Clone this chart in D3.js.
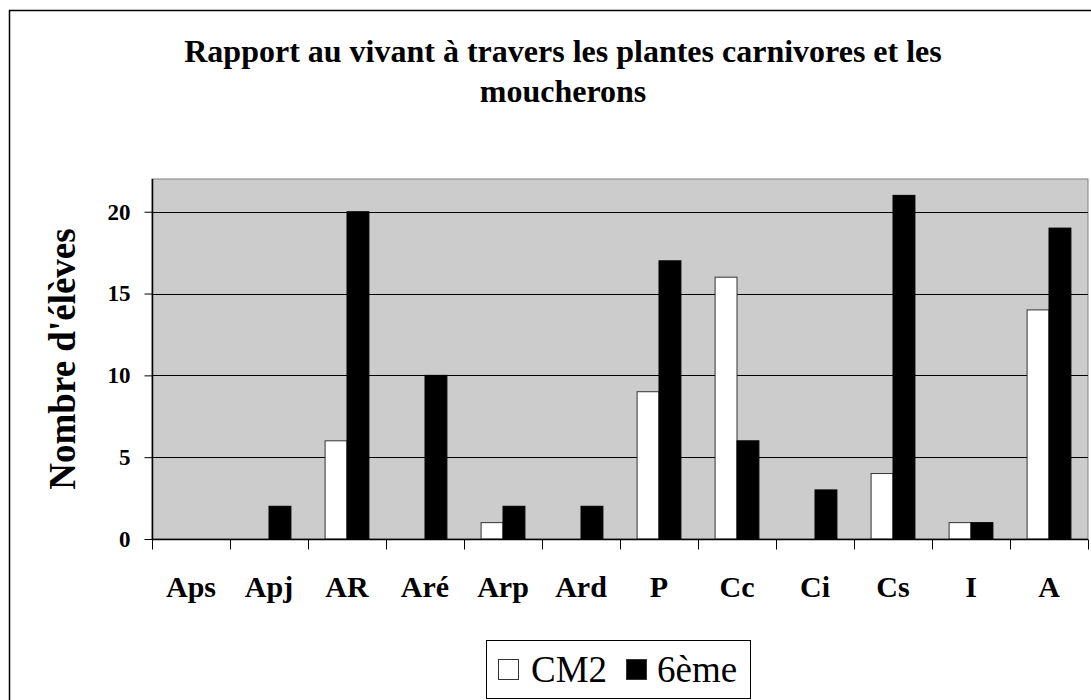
<!DOCTYPE html>
<html>
<head>
<meta charset="utf-8">
<script src="https://cdn.jsdelivr.net/npm/d3@7"></script>
<style>
  html, body { margin: 0; padding: 0; background: #fff; }
  svg { display: block; }
  text { font-family: "Liberation Serif", "Times New Roman", serif; fill: #000; }
</style>
</head>
<body>
<svg id="chart" width="1091" height="700"></svg>
<script>
const categories = ["Aps", "Apj", "AR", "Aré", "Arp", "Ard", "P", "Cc", "Ci", "Cs", "I", "A"];
const seriesNames = ["CM2", "6ème"];
const cm2 = [0, 0, 6, 0, 1, 0, 9, 16, 0, 4, 1, 14];
const sixieme = [0, 2, 20, 10, 2, 2, 17, 6, 3, 21, 1, 19];
const yTicks = [0, 5, 10, 15, 20];
const titleLines = ["Rapport au vivant à travers les plantes carnivores et les", "moucherons"];
const yTitle = "Nombre d'élèves";

const svg = d3.select("#chart");
const W = 1091, H = 700;

// outer chart border
svg.append("rect")
  .attr("x", 9.5).attr("y", 10.5)
  .attr("width", 1200).attr("height", 800)
  .attr("fill", "#fff").attr("stroke", "#000").attr("stroke-width", 1.5);

const plot = { left: 152, right: 1088, top: 179, bottom: 539 };

const x = d3.scaleBand().domain(categories).range([plot.left, plot.right]).paddingInner(0).paddingOuter(0);
const series = d3.scaleBand().domain(seriesNames).range([0, x.bandwidth()]).paddingInner(0).paddingOuter(0.78);
const y = d3.scaleLinear().domain([0, 22]).range([plot.bottom, plot.top]);

// plot background
svg.append("rect")
  .attr("x", plot.left).attr("y", plot.top)
  .attr("width", plot.right - plot.left).attr("height", plot.bottom - plot.top)
  .attr("fill", "#cccccc").attr("stroke", "#808080").attr("stroke-width", 1);

// gridlines
svg.append("g").selectAll("line").data(yTicks.filter(d => d > 0)).join("line")
  .attr("x1", plot.left).attr("x2", plot.right)
  .attr("y1", d => Math.round(y(d)) + 0.5).attr("y2", d => Math.round(y(d)) + 0.5)
  .attr("stroke", "#000").attr("stroke-width", 1);

// bars
const data = [cm2, sixieme];
const colors = ["#ffffff", "#000000"];
const barG = svg.append("g");
categories.forEach((c, i) => {
  seriesNames.forEach((s, j) => {
    const v = data[j][i];
    if (v <= 0) return;
    barG.append("rect")
      .attr("x", x(c) + series(s))
      .attr("y", y(v))
      .attr("width", series.bandwidth())
      .attr("height", y(0) - y(v))
      .attr("fill", colors[j])
      .attr("stroke", j === 0 ? "#333" : "#000")
      .attr("stroke-width", 1);
  });
});

// y axis
const yAxis = d3.axisLeft(y).tickValues(yTicks).tickSize(8).tickPadding(14).tickFormat(d3.format("d"));
const yg = svg.append("g").attr("transform", `translate(${plot.left + 0.5},0)`).call(yAxis);
yg.select(".domain").attr("stroke", "#000").attr("stroke-width", 1.5).attr("d", `M0,${plot.top}V${plot.bottom}`);
yg.selectAll(".tick line").attr("stroke", "#000");
yg.selectAll(".tick text")
  .style("font-family", "'Liberation Serif', 'Times New Roman', serif")
  .style("font-size", "23px").style("font-weight", "bold").attr("fill", "#000");

// x axis
const xAxis = d3.axisBottom(x).tickSize(0).tickPadding(0).tickFormat("");
const xg = svg.append("g").attr("transform", `translate(0,${plot.bottom + 0.5})`).call(xAxis);
xg.select(".domain").attr("stroke", "#000").attr("stroke-width", 1.5).attr("d", `M${plot.left},0H${plot.right}`);
xg.selectAll(".tick").remove();
// boundary ticks between categories
const boundaries = categories.map(c => x(c)).concat([plot.right]);
xg.selectAll("line.bt").data(boundaries).join("line")
  .attr("class", "bt")
  .attr("x1", d => Math.round(d) + 0.5).attr("x2", d => Math.round(d) + 0.5)
  .attr("y1", 0).attr("y2", 10)
  .attr("stroke", "#000").attr("stroke-width", 1);
// category labels
svg.append("g").selectAll("text").data(categories).join("text")
  .attr("x", d => x(d) + x.bandwidth() / 2)
  .attr("y", 597)
  .attr("text-anchor", "middle")
  .style("font-size", "30px").style("font-weight", "bold")
  .text(d => d);

// y title
svg.append("text")
  .attr("transform", `translate(75,${(plot.top + plot.bottom) / 2}) rotate(-90)`)
  .attr("text-anchor", "middle")
  .style("font-size", "37px").style("font-weight", "bold")
  .text(yTitle);

// title
svg.append("g").selectAll("text").data(titleLines).join("text")
  .attr("x", 563)
  .attr("y", (d, i) => 62 + i * 40)
  .attr("text-anchor", "middle")
  .style("font-size", "32px").style("font-weight", "bold")
  .text(d => d);

// legend
const lg = svg.append("g");
lg.append("rect").attr("x", 486.5).attr("y", 640.5).attr("width", 264).attr("height", 58)
  .attr("fill", "#fff").attr("stroke", "#000").attr("stroke-width", 1);
const legendItems = [
  { name: seriesNames[0], color: colors[0], sx: 498, tx: 531 },
  { name: seriesNames[1], color: colors[1], sx: 626, tx: 657 }
];
legendItems.forEach(it => {
  lg.append("rect").attr("x", it.sx + 0.5).attr("y", 659.5).attr("width", 20).attr("height", 20)
    .attr("fill", it.color).attr("stroke", "#333").attr("stroke-width", 1);
  lg.append("text").attr("x", it.tx).attr("y", 682)
    .style("font-size", "37px").text(it.name);
});
</script>
</body>
</html>
